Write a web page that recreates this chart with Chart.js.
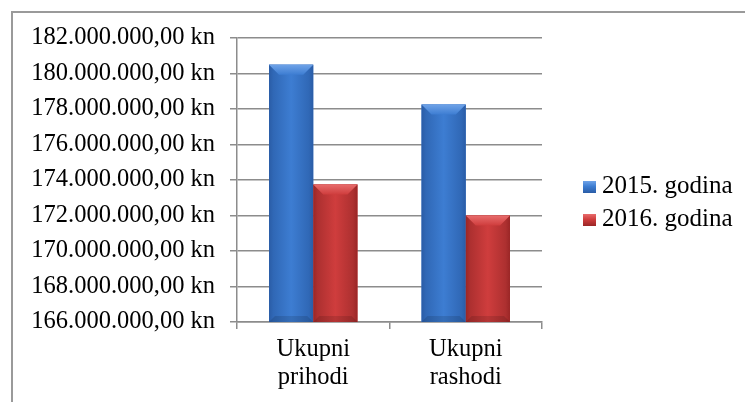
<!DOCTYPE html>
<html>
<head>
<meta charset="utf-8">
<script src="https://cdn.jsdelivr.net/npm/chart.js@4/dist/chart.umd.min.js"></script>
<style>
  html, body { margin: 0; padding: 0; background: #fff; }
  #wrap { position: relative; width: 745px; height: 402px; overflow: hidden; }
  #frame { position: absolute; left: 11px; top: 11px; width: 740px; height: 400px;
           border-left: 2px solid #9a9a9a; border-top: 2px solid #9a9a9a; box-sizing: border-box; }
  canvas { position: absolute; left: 0; top: 0; }
  .lg { position: absolute; left: 583px; font-family: 'Liberation Serif', 'Times New Roman', serif;
        font-size: 25px; line-height: 24px; color: #000; white-space: nowrap; }
  .lg i { display: inline-block; width: 13px; height: 12px; margin-right: 6px; vertical-align: 0px; }
</style>
</head>
<body>
<div id="wrap">
  <div id="frame"></div>
  <canvas id="c" width="745" height="402"></canvas>
  <div id="legend"></div>
</div>
<script>
// ---- data ----
const categories = [['Ukupni', 'prihodi'], ['Ukupni', 'rashodi']];
const seriesLabels = ['2015. godina', '2016. godina'];
const values2015 = [180500000, 178250000];
const values2016 = [173750000, 172000000];
const yMin = 166000000;
const yMax = 182000000;
const yStep = 2000000;

// ---- styles ----
const palette = [
  { main: '#3d7dd2', edge: '#2a5ca6', light: '#6fa3e8', dark: '#3068b6' },
  { main: '#cf3d3d', edge: '#9a2626', light: '#e86c6c', dark: '#ad3030' }
];

function fmtKn(v) {
  const s = Math.round(v).toString().replace(/\B(?=(\d{3})+(?!\d))/g, '.');
  return s + ',00 kn';
}

const bevelPlugin = {
  id: 'bevel',
  afterDatasetsDraw(chart) {
    const ctx = chart.ctx;
    const area = chart.chartArea;
    chart.data.datasets.forEach((ds, di) => {
      const meta = chart.getDatasetMeta(di);
      const p = palette[di];
      meta.data.forEach(el => {
        const l = el.x - el.width / 2, r = el.x + el.width / 2;
        const t = Math.max(Math.min(el.y, el.base), area.top);
        const b = Math.min(Math.max(el.y, el.base), area.bottom);
        const w = r - l;
        ctx.save();
        const g = ctx.createLinearGradient(l, 0, r, 0);
        g.addColorStop(0, p.edge);
        g.addColorStop(0.1, p.dark);
        g.addColorStop(0.5, p.main);
        g.addColorStop(0.9, p.dark);
        g.addColorStop(1, p.edge);
        ctx.fillStyle = g;
        ctx.fillRect(l, t, w, b - t);
        const bv = Math.min(10, w / 4);
        // top bevel
        const gt = ctx.createLinearGradient(0, t, 0, t + bv);
        gt.addColorStop(0, p.light);
        gt.addColorStop(1, p.main);
        ctx.fillStyle = gt;
        ctx.beginPath();
        ctx.moveTo(l, t); ctx.lineTo(r, t); ctx.lineTo(r - bv, t + bv); ctx.lineTo(l + bv, t + bv);
        ctx.closePath(); ctx.fill();
        // bottom bevel
        ctx.fillStyle = 'rgba(0,0,0,0.12)';
        ctx.beginPath();
        ctx.moveTo(l, b); ctx.lineTo(r, b); ctx.lineTo(r - 6, b - 6); ctx.lineTo(l + 6, b - 6);
        ctx.closePath(); ctx.fill();
        ctx.restore();
      });
    });
  }
};

Chart.defaults.font.family = "'Liberation Serif', 'Times New Roman', serif";
Chart.defaults.font.size = 24.5;
Chart.defaults.color = '#000';

const gridColor = '#8c8c8c';

new Chart(document.getElementById('c'), {
  type: 'bar',
  data: {
    labels: categories,
    datasets: [
      { label: seriesLabels[0], data: values2015, backgroundColor: palette[0].main },
      { label: seriesLabels[1], data: values2016, backgroundColor: palette[1].main }
    ]
  },
  options: {
    responsive: false,
    animation: false,
    devicePixelRatio: 1,
    layout: { padding: { left: 0, top: 38, right: 203, bottom: 0 } },
    plugins: { legend: { display: false }, tooltip: { enabled: false } },
    datasets: { bar: { categoryPercentage: 0.58, barPercentage: 1.0 } },
    scales: {
      x: {
        grid: { display: true, drawOnChartArea: false, drawTicks: true, tickLength: 7,
                color: gridColor, lineWidth: 1.5, offset: true },
        border: { display: true, color: gridColor, width: 1.5 },
        ticks: { padding: 6, font: { size: 24.5, lineHeight: 1.15 }, maxRotation: 0 },
        afterFit(scale) { scale.height = 80; }
      },
      y: {
        min: yMin, max: yMax,
        grid: { color: gridColor, lineWidth: 1.5, drawTicks: true, tickLength: 7 },
        border: { display: true, color: gridColor, width: 1.5 },
        ticks: { stepSize: yStep, padding: 15, callback: v => fmtKn(v), font: { size: 24.5 } },
        afterFit(scale) { scale.width = 237; }
      }
    }
  },
  plugins: [bevelPlugin]
});

// legend (HTML text)
const lg = document.getElementById('legend');
const tops = [173, 206];
seriesLabels.forEach((s, i) => {
  const d = document.createElement('div');
  d.className = 'lg';
  d.style.top = tops[i] + 'px';
  const box = document.createElement('i');
  box.style.background = 'linear-gradient(180deg,' + palette[i].light + ' 0%,' + palette[i].main + ' 45%,' + palette[i].edge + ' 100%)';
  d.appendChild(box);
  d.appendChild(document.createTextNode(s));
  lg.appendChild(d);
});
</script>
</body>
</html>
